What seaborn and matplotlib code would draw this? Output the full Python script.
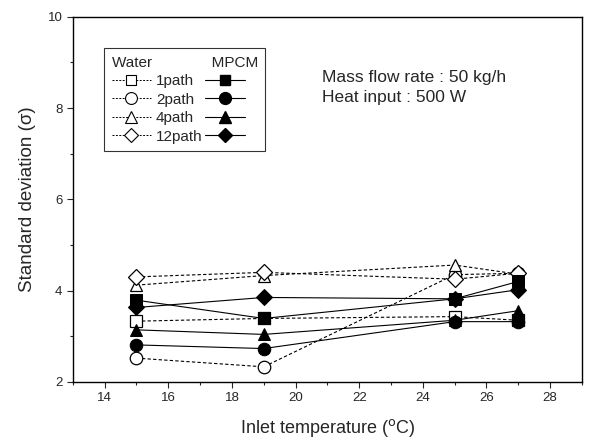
import matplotlib
matplotlib.use("Agg")
import matplotlib.pyplot as plt
import seaborn as sns
import numpy as np
from matplotlib.lines import Line2D
from matplotlib.ticker import MultipleLocator

sns.set_style("ticks")
plt.rcParams['font.family'] = ['Liberation Sans', 'DejaVu Sans']

temps = [15, 19, 25, 27]
paths = ["1path", "2path", "4path", "12path"]
markers = ["s", "o", "^", "D"]
water = {
    "1path": [3.33, 3.39, 3.43, 3.35],
    "2path": [2.52, 2.33, 4.35, 4.38],
    "4path": [4.12, 4.33, 4.56, 4.36],
    "12path": [4.30, 4.40, 4.25, 4.38],
}
mpcm = {
    "1path": [3.79, 3.39, 3.82, 4.20],
    "2path": [2.81, 2.73, 3.32, 3.32],
    "4path": [3.14, 3.04, 3.35, 3.56],
    "12path": [3.63, 3.85, 3.82, 4.02],
}

fig = plt.figure(figsize=(5.92, 4.43), dpi=100)
ax = fig.add_axes([0.123, 0.138, 0.86, 0.824])

msizes = {"s": 8, "o": 9, "^": 9, "D": 8}
for p, m in zip(paths, markers):
    sns.lineplot(x=temps, y=water[p], ax=ax, color="black", linewidth=0.8,
                 linestyle=(0, (3, 2)), marker=m, markersize=msizes[m],
                 markerfacecolor="white", markeredgecolor="black",
                 markeredgewidth=0.9)
for p, m in zip(paths, markers):
    sns.lineplot(x=temps, y=mpcm[p], ax=ax, color="black", linewidth=0.8,
                 linestyle="-", marker=m, markersize=msizes[m],
                 markerfacecolor="black", markeredgecolor="black")

ax.set_xlim(13, 29)
ax.set_ylim(2, 10)
ax.xaxis.set_major_locator(MultipleLocator(2))
ax.xaxis.set_minor_locator(MultipleLocator(1))
ax.yaxis.set_major_locator(MultipleLocator(2))
ax.yaxis.set_minor_locator(MultipleLocator(1))
ax.tick_params(which="major", direction="out", length=4, width=0.8, labelsize=9.5)
ax.tick_params(which="minor", direction="out", length=2.5, width=0.8)
for s in ax.spines.values():
    s.set_linewidth(1.0)
    s.set_color("black")

ax.set_xlabel("Inlet temperature ($^{\\mathrm{o}}$C)", fontsize=13, labelpad=9)
ax.set_ylabel("Standard deviation (\u03c3)", fontsize=13.5, labelpad=8)

ax.text(0.489, 0.822, "Mass flow rate : 50 kg/h", transform=ax.transAxes,
        fontsize=12.5, va="baseline")
ax.text(0.489, 0.767, "Heat input : 500 W", transform=ax.transAxes,
        fontsize=12.5, va="baseline")

handles = []
labels = []
for p, m in zip(paths, markers):
    handles.append(Line2D([], [], color="black", linewidth=0.7, linestyle=(0, (2, 1.5)),
                          marker=m, markersize=msizes[m] * 0.95, markerfacecolor="white",
                          markeredgecolor="black", markeredgewidth=0.8))
    labels.append(p)
for p, m in zip(paths, markers):
    handles.append(Line2D([], [], color="black", linewidth=0.8, linestyle="-",
                          marker=m, markersize=msizes[m] * 0.95, markerfacecolor="black",
                          markeredgecolor="black"))
    labels.append("")

leg = ax.legend(handles, labels, ncol=2, loc="upper left",
                bbox_to_anchor=(0.061, 0.915), borderaxespad=0.0,
                frameon=True, fancybox=False,
                edgecolor="black", fontsize=11, handlelength=2.6,
                handletextpad=0.3, columnspacing=0.2, labelspacing=0.3,
                borderpad=0.5, title="Water              MPCM",
                title_fontsize=11, alignment="left")
leg.get_frame().set_linewidth(0.8)

fig.savefig("out.png", dpi=100)
